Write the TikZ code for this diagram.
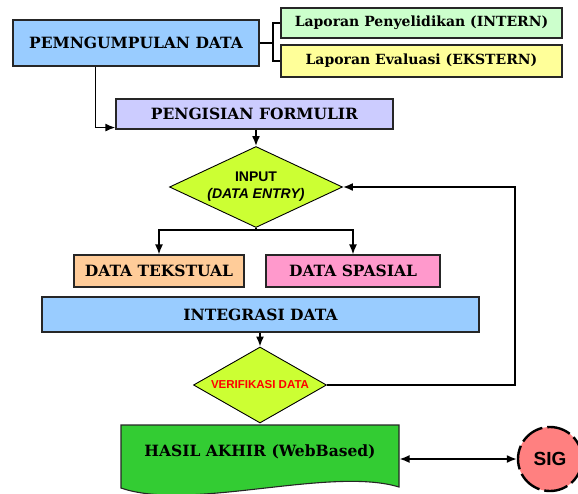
\documentclass[tikz,border=0pt]{standalone}
\usepackage{xcolor}
\usepackage{fontspec}
\setmainfont{DejaVu Serif}
\setsansfont{Liberation Sans}
\usepackage{tikz}
\usetikzlibrary{arrows.meta}
\usetikzlibrary{shapes.geometric}
\definecolor{skyblue}{HTML}{99CCFF}
\definecolor{mintgreen}{HTML}{CCFFCC}
\definecolor{paleyellow}{HTML}{FFFF99}
\definecolor{lavender}{HTML}{CCCCFF}
\definecolor{limegreen}{HTML}{CCFF33}
\definecolor{peach}{HTML}{FFCC99}
\definecolor{pink}{HTML}{FF99CC}
\definecolor{leafgreen}{HTML}{33CC33}
\definecolor{salmon}{HTML}{FF8080}
\tikzset{
data box/.style = { rectangle, draw = black!85, line width = 1.1pt, inner sep = 0pt, font = \bfseries\fontsize{15.5}{18}\selectfont },
decision/.style = { diamond, draw = black, fill = limegreen, line width = 0.9pt, inner sep = 0pt, font = \sffamily\bfseries },
flow/.style = { draw = black, line width = 1.6pt, -{Latex[length = 10pt, width = 8pt]} },
link/.style = { draw = black, line width = 1.6pt },
}

\begin{document}
\begin{tikzpicture}[x = 1pt, y = -1pt]
      \useasboundingbox (0, 0) rectangle (578, 493);
      \node[data box, fill = skyblue, minimum width = 246pt, minimum height = 46pt] (pemngumpulan) at (136, 43) {PEMNGUMPULAN DATA};
      \node[data box, fill = mintgreen, minimum width = 281pt, minimum height = 30pt, font = \bfseries\fontsize{14}{17}\selectfont] (intern) at (421.5, 23) {Laporan Penyelidikan (INTERN)};
      \node[data box, fill = paleyellow, minimum width = 281pt, minimum height = 32pt, font = \bfseries\fontsize{14}{17}\selectfont] (ekstern) at (421.5, 61) {Laporan Evaluasi (EKSTERN)};
      \node[data box, fill = lavender, minimum width = 277pt, minimum height = 30pt] (pengisian) at (254.5, 114) {PENGISIAN FORMULIR};
      \node[decision, aspect = 2.1, minimum width = 173pt, minimum height = 81pt, align = center, font = \sffamily\bfseries\fontsize{14}{17}\selectfont] (input) at (256, 187) {INPUT\\\textit{(DATA ENTRY)}};
      \node[data box, fill = peach, minimum width = 170pt, minimum height = 32pt] (tekstual) at (159, 271) {DATA TEKSTUAL};
      \node[data box, fill = pink, minimum width = 174pt, minimum height = 32pt] (spasial) at (353, 271) {DATA SPASIAL};
      \node[data box, fill = skyblue, minimum width = 437pt, minimum height = 35pt] (integrasi) at (260.5, 314.5) {INTEGRASI DATA};
      \node[decision, aspect = 1.75, minimum width = 133pt, minimum height = 76pt, text = red, font = \sffamily\bfseries\fontsize{11.5}{14}\selectfont] (verifikasi) at (260, 385) {VERIFIKASI DATA};
      \path[draw = black!85, fill = leafgreen, line width = 1.1pt] (121, 425) -- (399, 425) -- (399, 487) .. controls (330, 466) and (190, 512) .. (121, 488) -- cycle;
      \node[data box, draw = none, minimum width = 278pt, minimum height = 18pt] (hasil) at (260, 452) {HASIL AKHIR (WebBased)};
      \node[circle, draw = black, fill = salmon, line width = 2.4pt, dash pattern = on 24pt off 5pt, minimum size = 64pt, font = \sffamily\bfseries\fontsize{19}{22}\selectfont] (sig) at (550, 459) {SIG};
      \coordinate (brace) at (273, 43);
      \coordinate (loop) at (515, 187);
      \draw[link] (pemngumpulan.east) -- (brace);
      \draw[link] (intern.west) -| (brace) |- (ekstern.west);
      \draw[flow] ([xshift = 83pt]pemngumpulan.south west) |- ([yshift = 2pt]pengisian.south west);
      \draw[flow] (input.north |- pengisian.south) -- (input.north);
      \draw[flow] (input.south) -- ++(0, 2) -| (tekstual.north);
      \draw[flow] (input.south) -- ++(0, 2) -| (spasial.north);
      \draw[flow] (verifikasi.north |- integrasi.south) -- (verifikasi.north);
      \draw[flow] (verifikasi.east) -| (loop) -- (input.east);
      \draw[flow, {Latex[length = 10pt, width = 8pt]}-{Latex[length = 10pt, width = 8pt]}] (hasil.east |- sig.west) -- (sig.west);
    \end{tikzpicture}
\end{document}
